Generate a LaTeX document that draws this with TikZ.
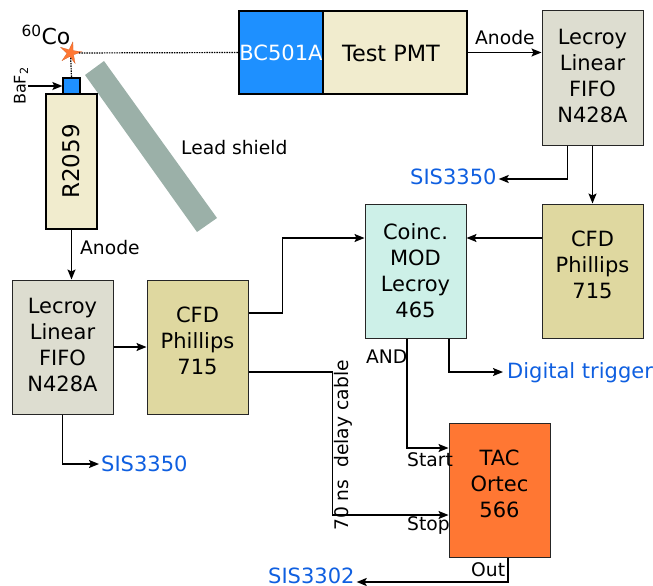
\documentclass[tikz,border=0pt]{standalone}
\usepackage{fontspec}
\setmainfont{DejaVu Sans}
\usetikzlibrary{shapes.geometric,calc,arrows.meta}
\definecolor{detblue}{HTML}{1E90FF}
\definecolor{pmtcream}{HTML}{F1ECCE}
\definecolor{fifogray}{HTML}{DDDDD0}
\definecolor{cfdkhaki}{HTML}{DFD8A0}
\definecolor{coincmint}{HTML}{CDF0E8}
\definecolor{tacorange}{HTML}{FF7733}
\definecolor{shieldgray}{HTML}{9BB0A8}
\definecolor{linkblue}{HTML}{0F5FE0}
\tikzset{
    modbox/.style={draw=black!85, line width=1pt, align=center, font=\fontsize{21}{26}\selectfont, minimum width=101pt, minimum height=134pt, inner sep=0pt},
    detbox/.style={draw=black, line width=1.5pt, inner sep=0pt},
    link/.style={-{Stealth[length=10pt,width=8pt,inset=2pt]}, line width=1.4pt},
    sourceline/.style={dash pattern=on 1.5pt off 1pt, line width=1.2pt},
    outlabel/.style={text=linkblue, font=\fontsize{21}{24}\selectfont, inner sep=0pt},
    smalllabel/.style={font=\fontsize{18.7}{22}\selectfont, inner sep=0pt},
}
\begin{document}
\begin{tikzpicture}[x=1pt, y=-1pt]
    \useasboundingbox (0,0) rectangle (653,586);

    % source and shield
    \fill[shieldgray] (85,75) -- (104,61) -- (217,218) -- (197,232) -- cycle;
    \node[detbox, fill=detblue, minimum width=84pt, minimum height=83pt, text=white, font=\fontsize{21}{24}\selectfont] (bc) at (281,52.5) {BC501A};
    \node[detbox, fill=pmtcream, minimum width=144pt, minimum height=83pt] (testpmt) at (395,52.5) {};
    \node[font=\fontsize{22.4}{26}\selectfont, inner sep=0pt] (testpmtlabel) at (391,53.5) {Test PMT};
    \node[detbox, line width=1.3pt, fill=pmtcream, minimum width=51pt, minimum height=135pt] (r2059) at (71.5,161.5) {};
    \node[rotate=90, font=\fontsize{23}{26}\selectfont, inner sep=0pt] (r2059label) at (71.5,161.5) {R2059};
    \node[detbox, line width=1.3pt, fill=detblue, minimum width=17pt, minimum height=16pt] (baf) at (71.5,86) {};
    \node[star, star points=5, star point ratio=3.2, shape border rotate=-12, fill=tacorange, draw=tacorange!80!black, line width=0.2pt, minimum size=23pt, inner sep=0pt] (co) at (70.5,53) {};
    \node[font=\fontsize{22}{25}\selectfont, inner sep=0pt] (colabel) at (46,35) {\textsuperscript{60}Co};
    \node[rotate=90, font=\fontsize{16}{19}\selectfont, inner sep=0pt] (baflabel) at (21,86) {BaF\textsubscript{2}};
    \node[smalllabel, anchor=west] (leadlabel) at (181,147.5) {Lead shield};

    % modules
    \node[modbox, fill=fifogray] (fifotop) at (592.5,78) {Lecroy\\Linear\\FIFO\\N428A\\[-22pt]\mbox{}};
    \node[modbox, fill=cfdkhaki] (cfdright) at (592.5,271) {CFD\\Phillips\\715\\[-13pt]\mbox{}};
    \node[modbox, fill=coincmint] (coinc) at (415.5,271) {Coinc.\\MOD\\Lecroy\\465};
    \node[modbox, fill=fifogray] (fifoleft) at (62.5,347) {Lecroy\\Linear\\FIFO\\N428A\\[-22pt]\mbox{}};
    \node[modbox, fill=cfdkhaki] (cfdleft) at (197.5,347) {CFD\\Phillips\\715\\[-13pt]\mbox{}};
    \node[modbox, fill=tacorange] (tac) at (499.5,490) {TAC\\Ortec\\566\\[-13pt]\mbox{}};

    % outputs
    \node[outlabel, anchor=west] (sistop) at (410,177) {SIS3350};
    \node[outlabel, anchor=west] (sisleft) at (101,464) {SIS3350};
    \node[outlabel, anchor=west] (trigger) at (507,373) {Digital trigger};
    \node[outlabel, anchor=west] (sistac) at (268,575.5) {SIS3302};

    % text on the connectors
    \node[smalllabel, anchor=west] (anodetop) at (475,38) {Anode};
    \node[smalllabel, anchor=west] (anodeleft) at (80,248) {Anode};
    \node[smalllabel, anchor=west] (andlabel) at (366,357) {AND};
    \node[smalllabel, anchor=west] (startlabel) at (407,460) {Start};
    \node[smalllabel, anchor=west] (stoplabel) at (407,525) {Stop};
    \node[smalllabel, anchor=west] (outlabeltac) at (471,570) {Out};
    \node[smalllabel, rotate=90, anchor=west] (delaylabel) at (343,531) {70 ns~~delay cable};

    % connectors
    \draw[sourceline] (co) -- (bc.west);
    \draw[sourceline] (co) -- (baf.north);
    \coordinate (bafstart) at (28,86);
    \draw[link] (bafstart) -- (baf.west);
    \draw[link] (testpmt.east) -- (fifotop.west |- testpmt.east);
    \draw[link] ([xshift=-25pt]fifotop.south) |- ([shift={(2pt,-2pt)}]sistop.east);
    \draw[link] (fifotop.south) -- (cfdright.north);
    \draw[link] ([yshift=33pt]cfdright.west) -- ([yshift=33pt]coinc.east);
    \draw[link] ([yshift=34pt]cfdleft.east) -- ++(34,0) |- ([yshift=33pt]coinc.west);
    \draw[link] ([yshift=-25pt]cfdleft.east) -- ++(84,0) |- ([yshift=-25pt]tac.west);
    \draw[link] ([xshift=-8.5pt]coinc.south) |- ([yshift=42pt]tac.west);
    \draw[link] ([xshift=33.5pt]coinc.south) |- ([shift={(-4pt,1pt)}]trigger.west);
    \draw[link] (r2059.south) -- (r2059.south |- fifoleft.north);
    \draw[link] (fifoleft.east) -- (cfdleft.west);
    \draw[link] (fifoleft.south) |- ([xshift=-2pt]sisleft.west);
    \draw[link] ([xshift=8.5pt]tac.south) |- ([shift={(2pt,-6.5pt)}]sistac.east);
\end{tikzpicture}
\end{document}
